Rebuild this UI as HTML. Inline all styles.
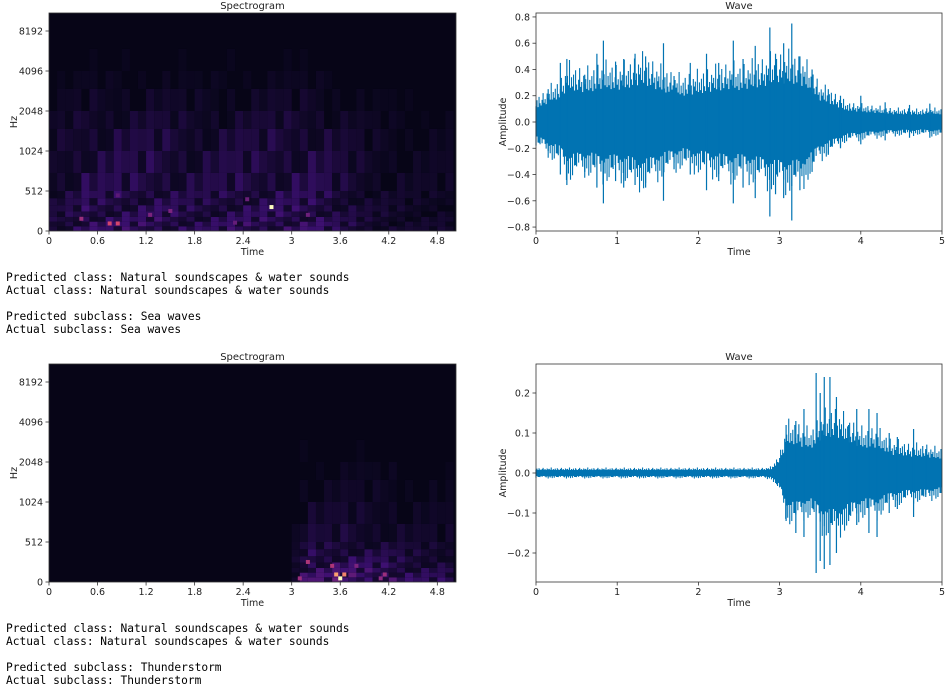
<!DOCTYPE html>
<html><head><meta charset="utf-8">
<style>
body{margin:0;background:#fff;width:946px;height:689px;overflow:hidden;position:relative;font-family:"DejaVu Sans","Liberation Sans",sans-serif}
.out{position:absolute;left:6px;font-family:"DejaVu Sans Mono","Liberation Mono",monospace;font-size:11.2px;line-height:13px;white-space:pre;color:#000}
svg text{font-family:"DejaVu Sans","Liberation Sans",sans-serif;fill:#222}
</style></head><body>
<svg id="fig" width="946" height="689" style="position:absolute;left:0;top:0"></svg>
<div class="out" style="top:271px">Predicted class: Natural soundscapes &amp; water sounds
Actual class: Natural soundscapes &amp; water sounds

Predicted subclass: Sea waves
Actual subclass: Sea waves</div>
<div class="out" style="top:622px">Predicted class: Natural soundscapes &amp; water sounds
Actual class: Natural soundscapes &amp; water sounds

Predicted subclass: Thunderstorm
Actual subclass: Thunderstorm</div>
<script>
// ---- data ----
const specXTicks=[0,0.6,1.2,1.8,2.4,3,3.6,4.2,4.8];
const specXTickLabels=["0","0.6","1.2","1.8","2.4","3","3.6","4.2","4.8"];
const specYTicks=[0,512,1024,2048,4096,8192];
const specYTickLabels=["0","512","1024","2048","4096","8192"];
const bandEdges=[0,60,120,180,250,330,420,512,700,1024,1500,2048,3000,4096,6000,8192,11025];
const band1=[0.14,0.14,0.13,0.12,0.12,0.11,0.11,0.10,0.09,0.075,0.055,0.035,0.02,0.012,0.006,0.0];
const band2=[0.20,0.18,0.16,0.14,0.12,0.10,0.08,0.06,0.045,0.03,0.02,0.012,0.006,0.0,0.0,0.0];
const specCols1=[0.5,0.6,0.7,0.8,1.0,0.95,0.9,0.9,1.0,0.95,0.9,0.95,1.0,1.0,0.95,0.9,0.85,0.8,0.8,0.8,0.85,0.85,0.9,0.9,0.95,0.9,0.95,1.0,1.0,1.0,1.0,1.0,1.0,0.95,0.85,0.7,0.65,0.6,0.5,0.45,0.4,0.4,0.35,0.35,0.3,0.3,0.3,0.3,0.3,0.3];
const specCols2=[0,0,0,0,0,0,0,0,0,0,0,0,0,0,0,0,0,0,0,0,0,0,0,0,0,0,0,0,0,0,0.3,0.8,1.0,0.9,0.9,1.0,1.0,1.0,0.9,0.9,0.85,0.85,0.85,0.7,0.65,0.6,0.6,0.6,0.55,0.55];
const texture=[1.0,0.4,1.5,0.7,1.2,0.3,1.6,0.8,0.5,1.3,0.4,1.0,1.4];
const hot1=[[2.75,300,1.0],[0.75,90,0.72],[0.85,90,0.72],[0.4,150,0.55],[1.25,200,0.45],[1.5,250,0.45],[2.45,400,0.4],[3.2,200,0.4],[0.85,450,0.35],[2.3,100,0.38]];
const hot2=[[3.55,90,0.9],[3.6,40,1.0],[3.65,90,0.85],[3.2,250,0.6],[3.1,40,0.55],[4.15,90,0.55],[3.8,200,0.45],[3.5,200,0.6],[4.1,40,0.5]];
const waveXTicks=[0,1,2,3,4,5];
const wave1YTicks=[-0.8,-0.6,-0.4,-0.2,0,0.2,0.4,0.6,0.8];
const wave1YTickLabels=["−0.8","−0.6","−0.4","−0.2","0.0","0.2","0.4","0.6","0.8"];
const wave2YTicks=[-0.2,-0.1,0,0.1,0.2];
const wave2YTickLabels=["−0.2","−0.1","0.0","0.1","0.2"];
const env1=[0.12,0.14,0.18,0.2,0.28,0.26,0.25,0.26,0.28,0.28,0.27,0.28,0.3,0.32,0.3,0.27,0.25,0.23,0.22,0.23,0.24,0.25,0.26,0.27,0.28,0.27,0.28,0.29,0.3,0.32,0.32,0.33,0.32,0.3,0.25,0.18,0.16,0.13,0.1,0.09,0.085,0.08,0.075,0.07,0.065,0.065,0.065,0.06,0.065,0.065,0.065];
const peaks1=[[0.15,0.25,-0.22],[0.3,0.45,-0.4],[0.38,0.48,-0.48],[0.6,0.36,-0.38],[0.75,0.52,-0.5],[0.83,0.62,-0.62],[0.98,0.46,-0.45],[1.08,0.48,-0.5],[1.22,0.52,-0.48],[1.35,0.5,-0.5],[1.57,0.6,-0.6],[1.7,0.35,-0.36],[1.9,0.45,-0.4],[2.1,0.52,-0.52],[2.25,0.45,-0.45],[2.43,0.62,-0.62],[2.55,0.48,-0.5],[2.7,0.58,-0.58],[2.88,0.72,-0.72],[2.95,0.52,-0.55],[3.05,0.6,-0.58],[3.15,0.75,-0.75],[3.25,0.5,-0.52],[3.4,0.4,-0.38],[3.6,0.25,-0.25],[3.75,0.2,-0.2],[4.0,0.2,-0.17],[4.3,0.15,-0.14],[4.6,0.13,-0.12],[4.85,0.14,-0.12]];
const env2=[0.008,0.008,0.008,0.008,0.008,0.008,0.008,0.008,0.008,0.008,0.008,0.008,0.008,0.008,0.008,0.008,0.008,0.008,0.008,0.008,0.008,0.008,0.008,0.008,0.008,0.008,0.008,0.008,0.008,0.01,0.03,0.08,0.08,0.07,0.07,0.09,0.1,0.1,0.09,0.08,0.07,0.07,0.07,0.06,0.05,0.05,0.045,0.045,0.045,0.04,0.04];
const peaks2=[[3.08,0.12,-0.12],[3.2,0.13,-0.15],[3.3,0.16,-0.16],[3.45,0.25,-0.25],[3.5,0.2,-0.22],[3.55,0.24,-0.24],[3.62,0.24,-0.23],[3.7,0.19,-0.2],[3.85,0.12,-0.12],[3.95,0.16,-0.13],[4.1,0.16,-0.15],[4.2,0.15,-0.16],[4.35,0.1,-0.1],[4.45,0.09,-0.09],[4.65,0.11,-0.11],[4.8,0.06,-0.06]];
const jitter=[1.0,1.35,0.9,1.5,1.1,0.95,1.25,1.6,1.05,1.2,0.9,1.4,1.15,1.3,1.0,1.7,0.95,1.25];

// ---- drawing ----
const NS="http://www.w3.org/2000/svg";
const svg=document.getElementById('fig');
function mk(tag,attrs,parent){const e=document.createElementNS(NS,tag);for(const k in attrs)e.setAttribute(k,attrs[k]);(parent||svg).appendChild(e);return e;}
function txt(s,x,y,size,anchor,parent,rot){const t=mk('text',{x:x,y:y,'font-size':size,'text-anchor':anchor||'middle'},parent);if(rot)t.setAttribute('transform','rotate(-90 '+x+' '+y+')');t.textContent=s;return t;}
const stops=[[0,[0,0,4]],[0.08,[8,6,26]],[0.25,[59,15,112]],[0.5,[140,41,129]],[0.75,[222,73,104]],[0.9,[252,160,110]],[1,[252,253,191]]];
function magma(v){v=Math.max(0,Math.min(1,v));for(let i=1;i<stops.length;i++){if(v<=stops[i][0]){const a=stops[i-1],b=stops[i];const f=(v-a[0])/(b[0]-a[0]);const c=a[1].map((x,j)=>Math.round(x+(b[1][j]-x)*f));return 'rgb('+c.join(',')+')';}}return 'rgb(252,253,191)';}

function spectrogram(top,cols,band,hot,idx){
  const L=49,R=456,T=top,B=top+218;
  const g=mk('g',{});
  
  
  const xs=t=>L+t*80.9;
  const ys=f=>f>=512?(B-40-40*Math.log2(f/512)):(B-40*f/512);
  mk('rect',{x:L,y:T,width:R-L,height:B-T,fill:magma(0.07)},g);
  for(let i=0;i<cols.length;i++){
    for(let j=0;j<band.length;j++){
      const v=0.07+cols[i]*band[j]*texture[(i*5+j*3)%texture.length];
      if(v<0.085)continue;
      const y1=Math.max(T,ys(bandEdges[j+1])),y2=ys(bandEdges[j]);
      const c=mk('rect',{x:xs(i*0.1),y:y1,width:8.1,height:y2-y1,fill:magma(v)},g);
      
      
    }
  }
  hot.forEach(h=>{const c=mk('rect',{x:xs(h[0])-2,y:ys(h[1])-2.5,width:4,height:4,fill:magma(h[2])},g);
    
    });
  mk('rect',{x:L,y:T,width:R-L,height:B-T,fill:'none',stroke:'#333','stroke-width':0.8},g);
  specXTicks.forEach((t,i)=>{mk('line',{x1:xs(t),x2:xs(t),y1:B,y2:B+3.5,stroke:'#333','stroke-width':0.8},g);txt(specXTickLabels[i],xs(t),B+13,9.5,'middle',g);});
  specYTicks.forEach((f,i)=>{mk('line',{x1:L-3.5,x2:L,y1:ys(f),y2:ys(f),stroke:'#333','stroke-width':0.8},g);txt(specYTickLabels[i],L-6,ys(f)+3.5,9.5,'end',g);});
  txt('Time',(L+R)/2,B+24,9.5,'middle',g);
  txt('Hz',17,(T+B)/2,9.5,'middle',g,true);
  txt('Spectrogram',(L+R)/2,T-4,10,'middle',g);
}
function wave(top,env,peaks,yt,ytl,ymax,idx){
  const L=536,R=942,T=top,B=top+218,mid=(T+B)/2;
  const g=mk('g',{});
  
  
  const xs=t=>L+t*81.2;
  const ys=a=>mid-a*(109/ymax);
  let p='';
  env.forEach((a,i)=>{p+=(i?'L':'M')+xs(i*0.1)+' '+ys(a*0.9)+' ';});
  for(let i=env.length-1;i>=0;i--)p+='L'+xs(i*0.1)+' '+ys(-env[i]*0.9)+' ';
  const w=mk('path',{d:p+'Z',fill:'#0173b2'},g);
  
  
  let d='';
  for(let k=0;k<400;k++){
    const t=k*5/400, i=Math.min(env.length-2,Math.floor(t*10)), f=t*10-i;
    const a=env[i]+(env[i+1]-env[i])*f;
    const up=a*jitter[k%jitter.length], dn=a*jitter[(k*7+3)%jitter.length];
    d+='M'+xs(t).toFixed(2)+' '+ys(up).toFixed(2)+'V'+ys(-dn).toFixed(2);
  }
  const jt=mk('path',{d:d,stroke:'#0173b2','stroke-width':1.1,fill:'none'},g);
  
  
  peaks.forEach(pk=>{const l=mk('line',{x1:xs(pk[0]),x2:xs(pk[0]),y1:ys(pk[1]),y2:ys(pk[2]),stroke:'#0173b2','stroke-width':1.2},g);
    
    });
  mk('rect',{x:L,y:T,width:R-L,height:B-T,fill:'none',stroke:'#333','stroke-width':0.8},g);
  waveXTicks.forEach(t=>{mk('line',{x1:xs(t),x2:xs(t),y1:B,y2:B+3.5,stroke:'#333','stroke-width':0.8},g);txt(String(t),xs(t),B+13,9.5,'middle',g);});
  yt.forEach((a,i)=>{mk('line',{x1:L-3.5,x2:L,y1:ys(a),y2:ys(a),stroke:'#333','stroke-width':0.8},g);txt(ytl[i],L-6,ys(a)+3.5,9.5,'end',g);});
  txt('Time',(L+R)/2,B+24,9.5,'middle',g);
  txt('Amplitude',506,mid,9.5,'middle',g,true);
  txt('Wave',(L+R)/2,T-4,10,'middle',g);
}
spectrogram(13,specCols1,band1,hot1,1);
wave(13,env1,peaks1,wave1YTicks,wave1YTickLabels,0.83,1);
spectrogram(364,specCols2,band2,hot2,2);
wave(364,env2,peaks2,wave2YTicks,wave2YTickLabels,0.2725,2);
</script>
</body></html>
